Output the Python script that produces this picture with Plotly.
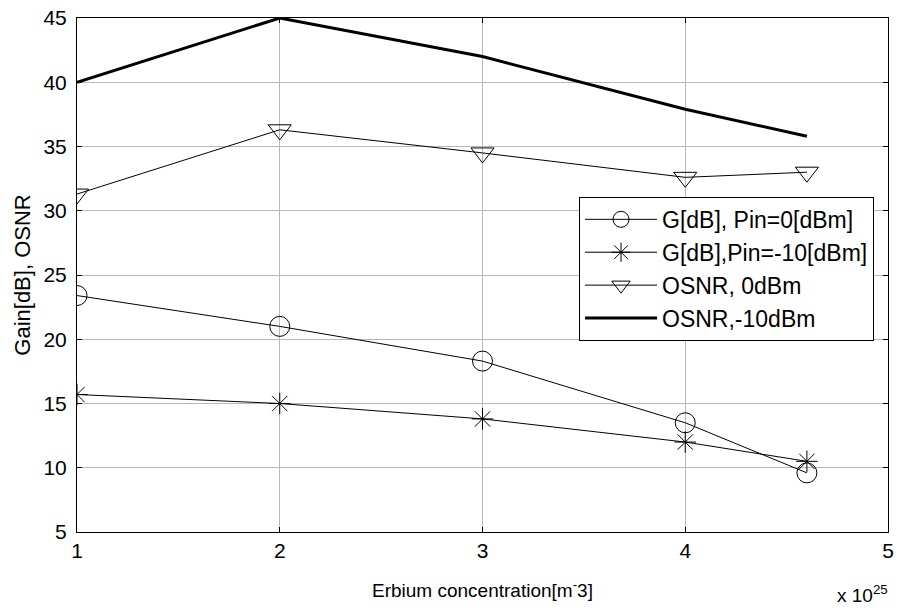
import plotly.graph_objects as go

x_vals = [1, 2, 3, 4, 4.6]
gain_pin0 = [23.4, 21.0, 18.3, 13.5, 9.6]
gain_pin10 = [15.7, 15.0, 13.8, 12.0, 10.5]
osnr_0dbm = [31.3, 36.3, 34.5, 32.6, 33.0]
osnr_10dbm = [40.0, 45.0, 42.0, 37.9, 35.8]

x_ticks = [1, 2, 3, 4, 5]
y_ticks = [5, 10, 15, 20, 25, 30, 35, 40, 45]

FONT = "Liberation Sans, Arial, sans-serif"

fig = go.Figure()
fig.add_trace(go.Scatter(
    x=x_vals, y=gain_pin0, mode="lines+markers", name="G[dB], Pin=0[dBm]",
    line=dict(color="black", width=1),
    marker=dict(symbol="circle-open", size=20, color="black", line=dict(width=1, color="black")),
))
fig.add_trace(go.Scatter(
    x=x_vals, y=gain_pin10, mode="lines+markers", name="G[dB],Pin=-10[dBm]",
    line=dict(color="black", width=1),
    marker=dict(symbol="asterisk-open", size=18, color="black", line=dict(width=1, color="black")),
))
fig.add_trace(go.Scatter(
    x=x_vals, y=osnr_0dbm, mode="lines+markers", name="OSNR, 0dBm",
    line=dict(color="black", width=1),
    marker=dict(symbol="triangle-down-open", size=20, color="black", line=dict(width=1, color="black")),
))
fig.add_trace(go.Scatter(
    x=x_vals, y=osnr_10dbm, mode="lines", name="OSNR,-10dBm",
    line=dict(color="black", width=3),
))

axis_common = dict(
    showline=True, linecolor="black", linewidth=1, mirror="ticks",
    ticks="inside", ticklen=5, tickcolor="black",
    showgrid=True, gridcolor="#b8b8b8", gridwidth=1,
    zeroline=False,
    tickfont=dict(family=FONT, size=21, color="black"),
)

fig.update_layout(
    width=900, height=610,
    margin=dict(l=77, r=6, t=14, b=78),
    paper_bgcolor="white", plot_bgcolor="white",
    font=dict(family=FONT, color="black"),
    xaxis=dict(range=[1, 5], tickvals=x_ticks, ticktext=[str(v) for v in x_ticks],
               title=dict(text="Erbium concentration[m<sup>-</sup>3]", font=dict(family=FONT, size=19), standoff=22),
               **axis_common),
    yaxis=dict(range=[5, 45], tickvals=y_ticks, ticktext=[str(v) for v in y_ticks],
               title=dict(text="Gain[dB], OSNR", font=dict(family=FONT, size=22), standoff=6),
               ticklabelstandoff=5,
               **axis_common),
    legend=dict(
        x=0.619, y=0.652, xanchor="left", yanchor="top",
        bgcolor="white", bordercolor="black", borderwidth=1,
        font=dict(family=FONT, size=23, color="black"),
        itemwidth=72,
    ),
    showlegend=True,
)

fig.add_annotation(
    x=1.0, y=0, xref="paper", yref="paper", xanchor="right", yanchor="top",
    xshift=2, yshift=-48, text="x 10<sup>25</sup>", showarrow=False,
    font=dict(family=FONT, size=19, color="black"),
)

fig.write_html("out.html")
